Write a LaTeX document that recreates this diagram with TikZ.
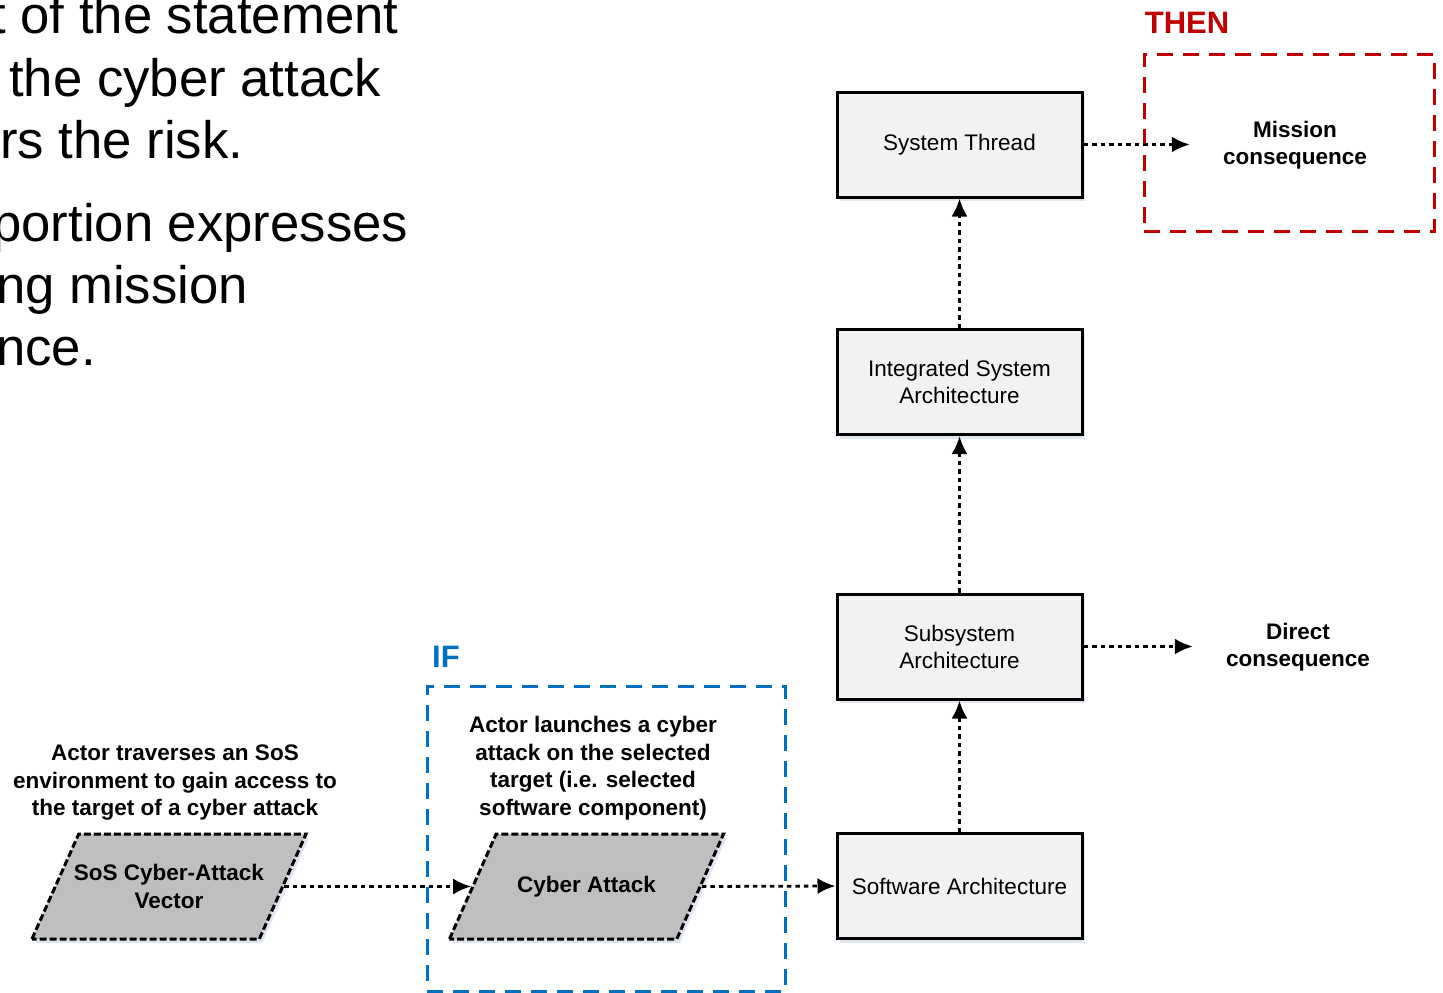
\documentclass[tikz,border=0pt]{standalone}
\usepackage{fontspec}
\setmainfont{Liberation Sans}
\usepackage{xcolor}
\usepackage{tikz}
\usetikzlibrary{positioning}
\usetikzlibrary{arrows.meta}
\usetikzlibrary{shapes.geometric}
\usetikzlibrary{shadows}
\pgfdeclarelayer{framelayer}
\pgfdeclarelayer{nodelayer}
\pgfdeclarelayer{edgelayer}
\pgfsetlayers{framelayer,nodelayer,edgelayer,main}
\definecolor{ifblue}{HTML}{0070C0}
\definecolor{thenred}{HTML}{C00000}
\definecolor{boxgray}{HTML}{F2F2F2}
\definecolor{vecgray}{HTML}{BFBFBF}
\definecolor{shadowblue}{HTML}{CCD6E6}
\tikzset{
    archbox/.style = {draw, line width=3pt, fill=boxgray, minimum width=245pt, minimum height=105pt,
        align=center, font=\fontsize{22.5}{27}\selectfont,
        drop shadow={shadow xshift=3pt, shadow yshift=-4pt, fill=shadowblue, opacity=0.6}},
    % empty parallelogram, size set by the inner seps
    vecbox/.style = {trapezium, trapezium left angle=66, trapezium right angle=114,
        draw, line width=3pt, dash pattern=on 7pt off 3pt, fill=vecgray, inner xsep=90.3pt, inner ysep=52.5pt,
        drop shadow={shadow xshift=3pt, shadow yshift=-4pt, fill=shadowblue, opacity=0.6}},
    note/.style = {align=center, font=\bfseries\fontsize{22.5}{27.5}\selectfont},
    outcome/.style = {note, minimum width=210pt},
    flow/.style = {line width=2.8pt, dash pattern=on 4.5pt off 4pt, -{Latex[length=18pt,width=16pt]}},
    frame/.style = {dash pattern=on 16pt off 10pt, line width=3pt},
    bigtext/.style = {anchor=base west, inner sep=0pt, font=\fontsize{52.7}{62}\selectfont}
}

\begin{document}
\begin{tikzpicture}[x=1pt, y=-1pt]
    \useasboundingbox (0,0) rectangle (1443,993);
    \clip (0,0) rectangle (1443,993);
    \begin{pgfonlayer}{framelayer}
        % IF / THEN groups
        \node [frame, draw=ifblue, minimum width=358pt, minimum height=305pt] (ifframe) at (606,838.5) {};
        \node [frame, draw=thenred, minimum width=290pt, minimum height=177pt] (thenframe) at (1289,142.5) {};
        \node [text=ifblue, font=\bfseries\fontsize{31}{31}\selectfont, inner sep=0pt] (iflabel) at (446,657) {IF};
        \node [text=thenred, font=\bfseries\fontsize{31}{31}\selectfont, inner sep=0pt] (thenlabel) at (1187,23) {THEN};
    \end{pgfonlayer}
    \begin{pgfonlayer}{nodelayer}
        % slide text cut off at the left
        \node [bigtext] (l1) at (-9,34) {t of the statement};
        \node [bigtext] (l2) at (9,96) {the cyber attack};
        \node [bigtext] (l3) at (0,158) {rs the risk.};
        \node [bigtext] (l4) at (-8,241) {portion expresses};
        \node [bigtext] (l5) at (-4,303) {ng mission};
        \node [bigtext] (l6) at (-4,365) {nce.};
        % architecture chain
        \node [archbox] (thread) at (959.5,144.5) {System Thread};
        \node [archbox] (isa) at (959.5,382) {Integrated System\\Architecture};
        \node [archbox] (subsys) at (959.5,646.5) {Subsystem\\Architecture};
        \node [archbox] (software) at (959.5,886) {Software Architecture};
        % attack path
        \node [vecbox] (vector) at (169,886.5) {};
        \node [note] (vectortext) at (vector) {SoS Cyber-Attack\\Vector};
        \node [vecbox] (attack) at (586.5,886.5) {};
        \node [note] (attacktext) at (attack) {Cyber Attack};
        \node [note] (vectornote) at (175,783) {Actor traverses an SoS\\environment to gain access to\\the target of a cyber attack};
        \node [note] (attacknote) at (593,768) {Actor launches a cyber\\attack on the selected\\target (i.e. selected\\software component)};
        % consequences
        \node [outcome] (mission) at (1295,145) {Mission\\consequence};
        \node [outcome] (direct) at (1298,647) {Direct\\consequence};
    \end{pgfonlayer}
    \begin{pgfonlayer}{edgelayer}
        \draw [flow] (vector.east) to (attack.west);
        \draw [flow] (attack.east) to (software.west);
        \draw [flow] (software) to (subsys);
        \draw [flow] (subsys) to (isa);
        \draw [flow] (isa) to (thread);
        \draw [flow] (thread.east) to (thread.east -| mission.west);
        \draw [flow] (subsys.east) to (subsys.east -| direct.west);
    \end{pgfonlayer}
\end{tikzpicture}
\end{document}
